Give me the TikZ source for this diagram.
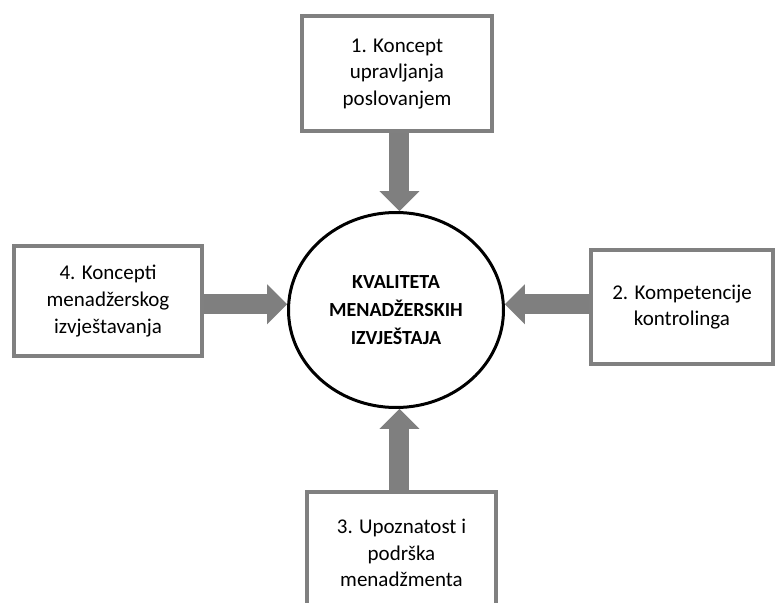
\documentclass[tikz,border=0pt]{standalone}
\usepackage{fontspec}
\setmainfont{Carlito}
\usetikzlibrary{shapes.geometric,arrows.meta}
\definecolor{framegray}{RGB}{128,128,128}
\definecolor{arrowgray}{RGB}{127,127,127}
\begin{document}
\begin{tikzpicture}[x=0.75pt,y=-0.75pt,
  box/.style={draw=framegray,line width=3pt,fill=white,align=center,inner sep=0pt,
    font=\fontsize{15.75}{20}\selectfont},
  core/.style={ellipse,draw=black,line width=2.25pt,fill=white,align=center,inner sep=0pt,
    font=\bfseries\fontsize{15}{21}\selectfont},
  flow/.style={draw=arrowgray,line width=15pt,
    -{Triangle[width=30pt,length=15pt,line width=0pt]}}]
\clip (0,0) rectangle (776,603);

% central ellipse
\node[core,minimum width=161.25pt,minimum height=146.25pt] (c) at (396,310)
  {KVALITETA\\MENADŽERSKIH\\IZVJEŠTAJA};

% four factor boxes
\node[box,minimum width=142.5pt,minimum height=86.25pt] (k1) at (397,73.5)
  {\raisebox{4pt}{\begin{tabular}{@{}c@{}}1. Koncept\\upravljanja\\poslovanjem\end{tabular}}};
\node[box,minimum width=136.5pt,minimum height=85.5pt] (k2) at (682,307)
  {2. Kompetencije\\kontrolinga};
\node[box,minimum width=141.75pt,minimum height=91.5pt] (k3) at (401.5,553)
  {3. Upoznatost i\\podrška\\menadžmenta};
\node[box,minimum width=141pt,minimum height=82.5pt] (k4) at (108,301)
  {4. Koncepti\\menadžerskog\\izvještavanja};

% arrows into the ellipse
\draw[flow] (k1.south -| c.88) -- (c.88);
\draw[flow] (k2.west |- c.3) -- (c.3);
\draw[flow] (k3.north -| c.272) -- (c.272);
\draw[flow] (k4.east |- c.177) -- (c.177);
\end{tikzpicture}
\end{document}
